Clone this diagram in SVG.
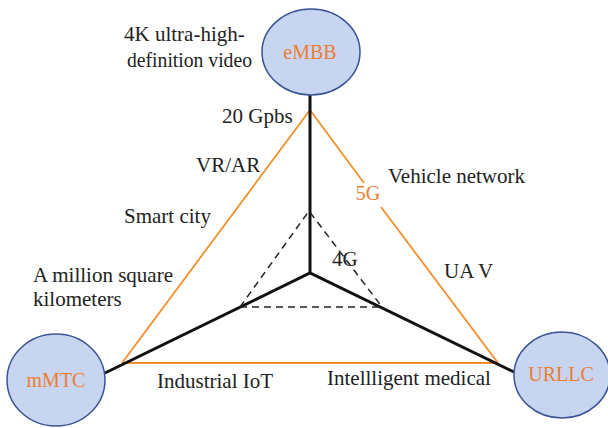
<svg xmlns="http://www.w3.org/2000/svg" width="608" height="428" viewBox="0 0 608 428">
<style>
.t{font-family:"Liberation Serif","Times New Roman",serif;font-size:21px;fill:#222}
.o{font-family:"Liberation Serif","Times New Roman",serif;font-size:20px;fill:#ED7D31;text-anchor:middle}
.c{fill:#C8D5F0;stroke:#3B5497;stroke-width:1.5}
.k{stroke:#111;stroke-width:3;fill:none}
.or{stroke:#F0902A;stroke-width:1.8;fill:none}
.d{stroke:#222;stroke-width:1.5;stroke-dasharray:7,5;fill:none}
</style>
<rect width="608" height="428" fill="#fff"/>
<g id="connectors">
<path class="or" d="M122,363 L310,110 L364,183 M381,207 L498,363"/>
<line class="or" x1="122" y1="363" x2="498" y2="363"/>
<path class="k" d="M310,95 L310,273 M105,373 L310,273 L514,372"/>
<path class="d" d="M240,307 L309,211 L382,307"/>
<line class="d" x1="240" y1="307" x2="382" y2="307" stroke="#555"/>
</g>
<g id="eMBB"><ellipse class="c" cx="311" cy="52" rx="49" ry="43"/><text class="o" x="310" y="59">eMBB</text></g>
<g id="mMTC"><ellipse class="c" cx="56" cy="380" rx="49" ry="46"/><text class="o" x="56" y="387">mMTC</text></g>
<g id="URLLC"><ellipse class="c" cx="562" cy="375" rx="48" ry="43"/><text class="o" x="561" y="381">URLLC</text></g>
<g id="labels">
<text class="t" x="124" y="41">4K ultra-high-</text>
<text class="t" x="127" y="67" textLength="125" lengthAdjust="spacingAndGlyphs">definition video</text>
<text class="t" x="222" y="123">20 Gpbs</text>
<text class="t" x="196" y="172">VR/AR</text>
<text class="t" x="124" y="223">Smart city</text>
<text class="t" x="33" y="282">A million square</text>
<text class="t" x="33" y="306">kilometers</text>
<text class="o" x="368" y="200">5G</text>
<text class="t" x="388" y="183">Vehicle network</text>
<text class="t" x="444" y="278">UA V</text>
<text class="t" x="332" y="266">4G</text>
<text class="t" x="157" y="388">Industrial IoT</text>
<text class="t" x="327" y="385">Intellligent medical</text>
</g>
</svg>
